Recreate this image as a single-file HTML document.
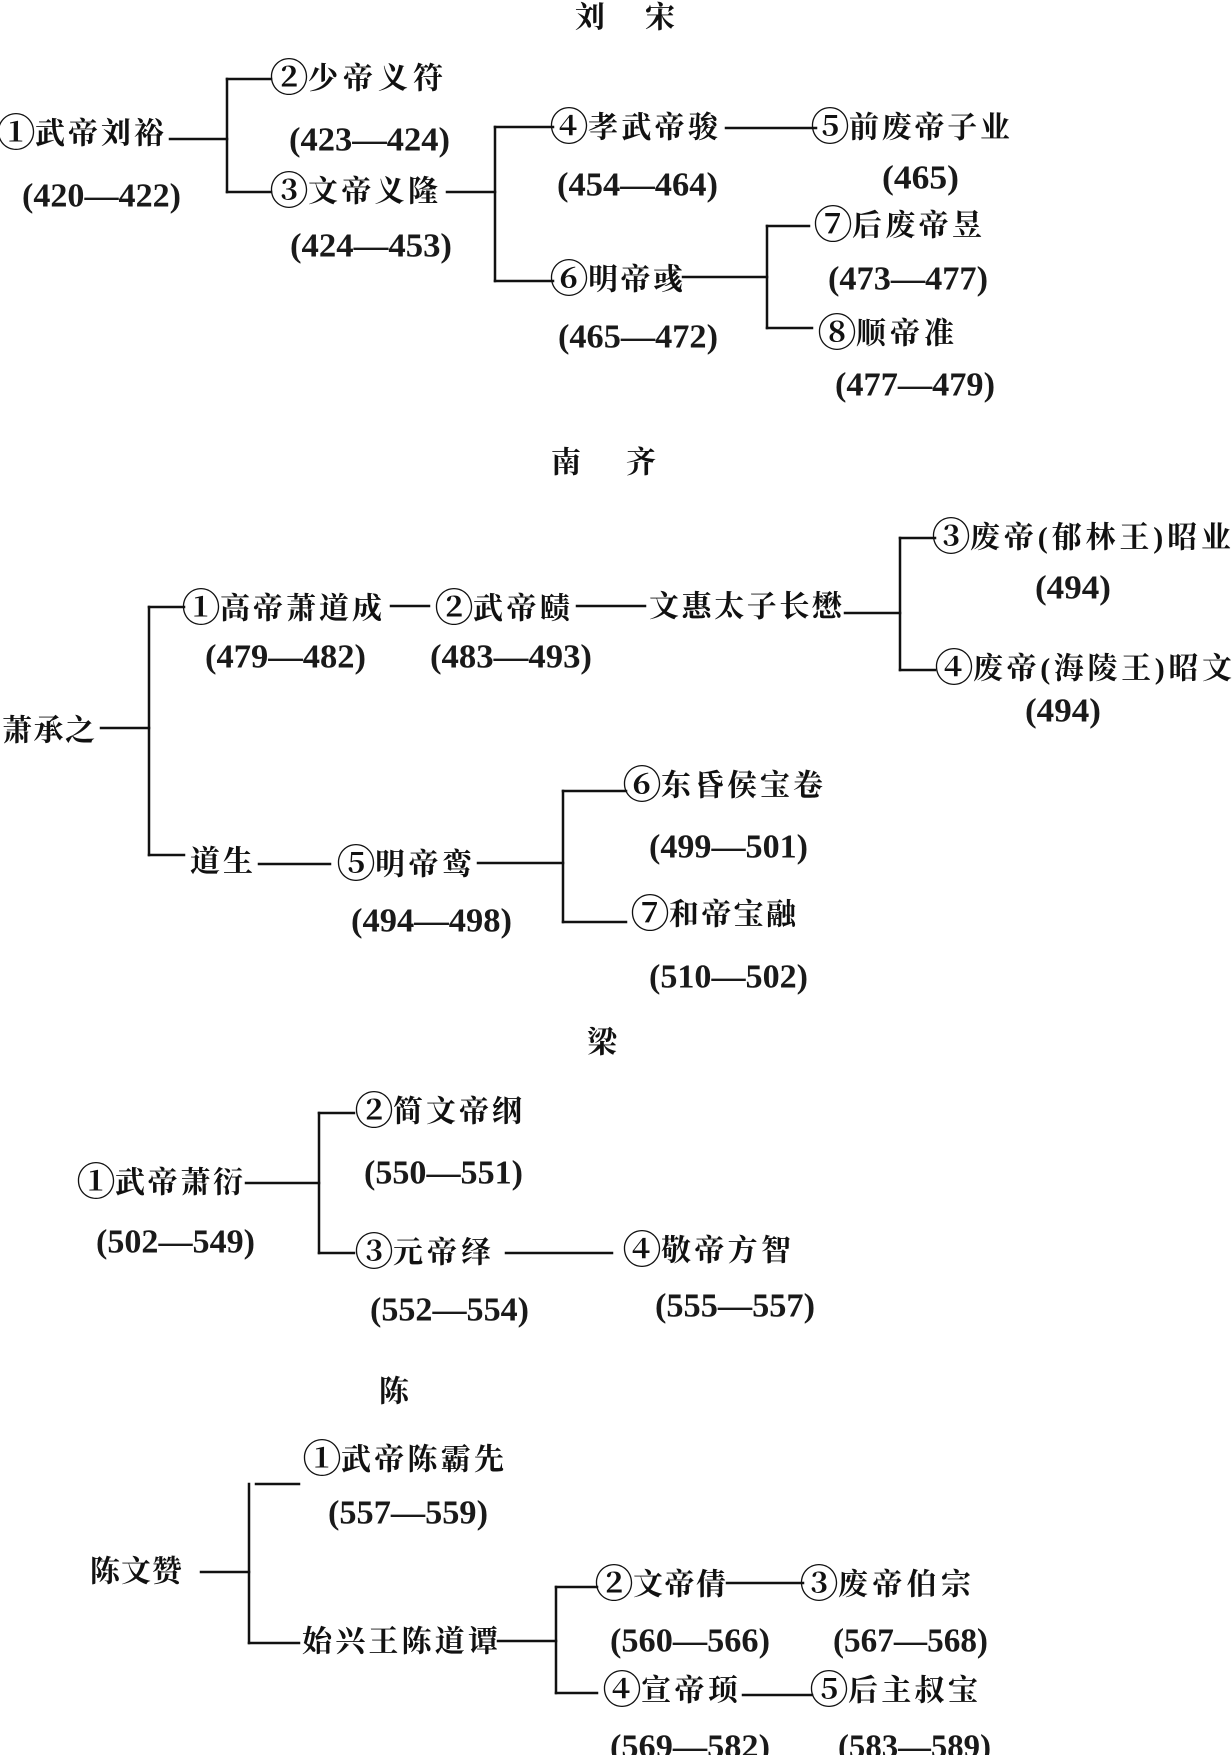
<!DOCTYPE html>
<html>
<head>
<meta charset="utf-8">
<style>
html,body{margin:0;padding:0;background:#fff;}
svg{display:block;}
.c{font-family:"Liberation Serif","Noto Serif CJK SC",serif;font-size:30px;font-weight:700;fill:#111;dominant-baseline:central;}
.n{font-family:"Liberation Serif","Noto Serif CJK SC",serif;font-size:39px;font-weight:700;fill:#111;dominant-baseline:central;text-anchor:middle;}
.d{font-family:"Liberation Serif","Noto Serif CJK SC",serif;font-size:34px;font-weight:700;fill:#1a1a1a;dominant-baseline:central;}
.t{font-family:"Liberation Serif","Noto Serif CJK SC",serif;font-size:30px;font-weight:700;fill:#111;dominant-baseline:central;text-anchor:middle;}
line{stroke:#111;stroke-width:2.5;stroke-linecap:square;}
</style>
</head>
<body>
<svg width="1232" height="1755" viewBox="0 0 1232 1755" xmlns="http://www.w3.org/2000/svg">
<!-- ===== 刘宋 ===== -->
<text class="t" x="590" y="18">刘</text>
<text class="t" x="660" y="18">宋</text>

<text class="n" x="16" y="134">①</text><text class="c" x="35" y="134" textLength="129" lengthAdjust="spacing">武帝刘裕</text>
<text class="d" x="22" y="196" textLength="159" lengthAdjust="spacingAndGlyphs">(420—422)</text>
<line x1="170" y1="139" x2="227" y2="139"/>
<line x1="227" y1="79" x2="227" y2="192"/>
<line x1="227" y1="79" x2="271" y2="79"/>
<line x1="227" y1="192" x2="271" y2="192"/>

<text class="n" x="289" y="79">②</text><text class="c" x="308" y="79" textLength="135" lengthAdjust="spacing">少帝义符</text>
<text class="d" x="289" y="140" textLength="161" lengthAdjust="spacingAndGlyphs">(423—424)</text>
<text class="n" x="289" y="192">③</text><text class="c" x="308" y="192" textLength="130" lengthAdjust="spacing">文帝义隆</text>
<text class="d" x="290" y="246" textLength="162" lengthAdjust="spacingAndGlyphs">(424—453)</text>

<line x1="447" y1="192" x2="495" y2="192"/>
<line x1="495" y1="127" x2="495" y2="281"/>
<line x1="495" y1="127" x2="553" y2="127"/>
<line x1="495" y1="281" x2="553" y2="281"/>

<text class="n" x="569" y="128">④</text><text class="c" x="588" y="128" textLength="130" lengthAdjust="spacing">孝武帝骏</text>
<text class="d" x="557" y="185" textLength="161" lengthAdjust="spacingAndGlyphs">(454—464)</text>
<line x1="726" y1="128" x2="816" y2="128"/>
<text class="n" x="830" y="128">⑤</text><text class="c" x="849" y="128" textLength="161" lengthAdjust="spacing">前废帝子业</text>
<text class="d" x="882" y="178" textLength="77" lengthAdjust="spacingAndGlyphs">(465)</text>

<text class="n" x="569" y="280">⑥</text><text class="c" x="588" y="280" textLength="95" lengthAdjust="spacing">明帝彧</text>
<text class="d" x="558" y="337" textLength="160" lengthAdjust="spacingAndGlyphs">(465—472)</text>
<line x1="683" y1="277" x2="767" y2="277"/>
<line x1="767" y1="226" x2="767" y2="328"/>
<line x1="767" y1="226" x2="809" y2="226"/>
<line x1="767" y1="328" x2="812" y2="328"/>

<text class="n" x="833" y="226">⑦</text><text class="c" x="852" y="226" textLength="130" lengthAdjust="spacing">后废帝昱</text>
<text class="d" x="828" y="279" textLength="160" lengthAdjust="spacingAndGlyphs">(473—477)</text>
<text class="n" x="837" y="334">⑧</text><text class="c" x="856" y="334" textLength="98" lengthAdjust="spacing">顺帝准</text>
<text class="d" x="835" y="385" textLength="160" lengthAdjust="spacingAndGlyphs">(477—479)</text>

<!-- ===== 南齐 ===== -->
<text class="t" x="566" y="463">南</text>
<text class="t" x="641" y="463">齐</text>

<text class="c" x="2" y="731" textLength="93" lengthAdjust="spacing">萧承之</text>
<line x1="101" y1="728" x2="149" y2="728"/>
<line x1="149" y1="607" x2="149" y2="855"/>
<line x1="149" y1="607" x2="184" y2="607"/>
<line x1="149" y1="855" x2="184" y2="855"/>

<text class="n" x="201" y="609">①</text><text class="c" x="220" y="609" textLength="162" lengthAdjust="spacing">高帝萧道成</text>
<text class="d" x="205" y="657" textLength="161" lengthAdjust="spacingAndGlyphs">(479—482)</text>
<line x1="391" y1="606" x2="429" y2="606"/>
<text class="n" x="454" y="609">②</text><text class="c" x="473" y="609" textLength="97" lengthAdjust="spacing">武帝赜</text>
<text class="d" x="430" y="657" textLength="162" lengthAdjust="spacingAndGlyphs">(483—493)</text>
<line x1="577" y1="606" x2="645" y2="606"/>
<text class="c" x="649" y="607" textLength="193" lengthAdjust="spacing">文惠太子长懋</text>

<line x1="845" y1="613" x2="900" y2="613"/>
<line x1="900" y1="538" x2="900" y2="670"/>
<line x1="900" y1="538" x2="935" y2="538"/>
<line x1="900" y1="670" x2="935" y2="670"/>

<text class="n" x="951" y="538">③</text><text class="c" x="970" y="538" textLength="261" lengthAdjust="spacing">废帝(郁林王)昭业</text>
<text class="d" x="1035" y="588" textLength="76" lengthAdjust="spacingAndGlyphs">(494)</text>
<text class="n" x="954" y="669">④</text><text class="c" x="973" y="669" textLength="259" lengthAdjust="spacing">废帝(海陵王)昭文</text>
<text class="d" x="1025" y="711" textLength="76" lengthAdjust="spacingAndGlyphs">(494)</text>

<text class="c" x="190" y="862" textLength="63" lengthAdjust="spacing">道生</text>
<line x1="259" y1="864" x2="330" y2="864"/>
<text class="n" x="356" y="865">⑤</text><text class="c" x="375" y="865" textLength="97" lengthAdjust="spacing">明帝鸾</text>
<text class="d" x="351" y="921" textLength="161" lengthAdjust="spacingAndGlyphs">(494—498)</text>
<line x1="478" y1="863" x2="563" y2="863"/>
<line x1="563" y1="791" x2="563" y2="922"/>
<line x1="563" y1="791" x2="626" y2="791"/>
<line x1="563" y1="922" x2="626" y2="922"/>

<text class="n" x="642" y="786">⑥</text><text class="c" x="661" y="786" textLength="162" lengthAdjust="spacing">东昏侯宝卷</text>
<text class="d" x="649" y="847" textLength="159" lengthAdjust="spacingAndGlyphs">(499—501)</text>
<text class="n" x="650" y="915">⑦</text><text class="c" x="669" y="915" textLength="127" lengthAdjust="spacing">和帝宝融</text>
<text class="d" x="649" y="977" textLength="159" lengthAdjust="spacingAndGlyphs">(510—502)</text>

<!-- ===== 梁 ===== -->
<text class="t" x="602" y="1043">梁</text>

<text class="n" x="374" y="1112">②</text><text class="c" x="393" y="1112" textLength="129" lengthAdjust="spacing">简文帝纲</text>
<text class="d" x="364" y="1173" textLength="159" lengthAdjust="spacingAndGlyphs">(550—551)</text>
<text class="n" x="96" y="1183">①</text><text class="c" x="115" y="1183" textLength="128" lengthAdjust="spacing">武帝萧衍</text>
<text class="d" x="96" y="1242" textLength="159" lengthAdjust="spacingAndGlyphs">(502—549)</text>
<line x1="246" y1="1183" x2="319" y2="1183"/>
<line x1="319" y1="1113" x2="319" y2="1253"/>
<line x1="319" y1="1113" x2="354" y2="1113"/>
<line x1="319" y1="1253" x2="354" y2="1253"/>
<text class="n" x="374" y="1253">③</text><text class="c" x="393" y="1253" textLength="98" lengthAdjust="spacing">元帝绎</text>
<line x1="506" y1="1253" x2="612" y2="1253"/>
<text class="n" x="642" y="1251">④</text><text class="c" x="661" y="1251" textLength="130" lengthAdjust="spacing">敬帝方智</text>
<text class="d" x="370" y="1310" textLength="159" lengthAdjust="spacingAndGlyphs">(552—554)</text>
<text class="d" x="655" y="1306" textLength="160" lengthAdjust="spacingAndGlyphs">(555—557)</text>

<!-- ===== 陈 ===== -->
<text class="t" x="394" y="1392">陈</text>

<text class="n" x="322" y="1460">①</text><text class="c" x="341" y="1460" textLength="163" lengthAdjust="spacing">武帝陈霸先</text>
<line x1="256" y1="1484" x2="299" y2="1484"/>
<text class="d" x="328" y="1513" textLength="160" lengthAdjust="spacingAndGlyphs">(557—559)</text>

<text class="c" x="90" y="1572" textLength="92" lengthAdjust="spacing">陈文赞</text>
<line x1="201" y1="1572" x2="249" y2="1572"/>
<line x1="249" y1="1484" x2="249" y2="1643"/>
<line x1="249" y1="1643" x2="299" y2="1643"/>
<text class="c" x="302" y="1642" textLength="196" lengthAdjust="spacing">始兴王陈道谭</text>

<line x1="498" y1="1641" x2="556" y2="1641"/>
<line x1="556" y1="1587" x2="556" y2="1693"/>
<line x1="556" y1="1587" x2="597" y2="1587"/>
<line x1="556" y1="1693" x2="597" y2="1693"/>

<text class="n" x="614" y="1585">②</text><text class="c" x="633" y="1585" textLength="93" lengthAdjust="spacing">文帝倩</text>
<line x1="727" y1="1583" x2="803" y2="1583"/>
<text class="n" x="819" y="1585">③</text><text class="c" x="838" y="1585" textLength="133" lengthAdjust="spacing">废帝伯宗</text>
<text class="d" x="610" y="1641" textLength="160" lengthAdjust="spacingAndGlyphs">(560—566)</text>
<text class="d" x="833" y="1641" textLength="155" lengthAdjust="spacingAndGlyphs">(567—568)</text>

<text class="n" x="622" y="1691">④</text><text class="c" x="641" y="1691" textLength="97" lengthAdjust="spacing">宣帝顼</text>
<line x1="743" y1="1695" x2="812" y2="1695"/>
<text class="n" x="829" y="1691">⑤</text><text class="c" x="848" y="1691" textLength="130" lengthAdjust="spacing">后主叔宝</text>
<text class="d" x="610" y="1747" textLength="160" lengthAdjust="spacingAndGlyphs">(569—582)</text>
<text class="d" x="838" y="1747" textLength="153" lengthAdjust="spacingAndGlyphs">(583—589)</text>
</svg>
</body>
</html>
